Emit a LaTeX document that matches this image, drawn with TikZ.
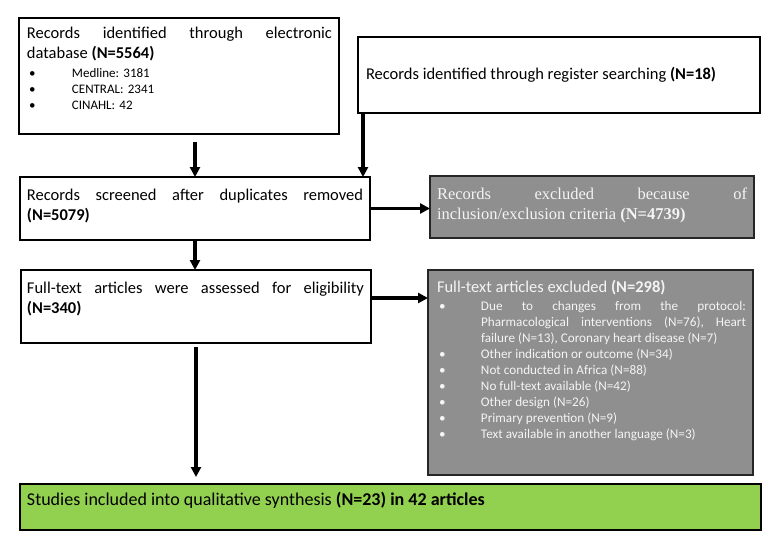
\documentclass[tikz,border=0pt]{standalone}
\usepackage{fontspec}
\setmainfont{Carlito}
\newfontfamily\timesf{Liberation Serif}
\usetikzlibrary{arrows.meta}
\definecolor{boxgray}{RGB}{143,143,143}
\definecolor{boxgreen}{RGB}{146,208,80}
\definecolor{lighttext}{RGB}{244,244,244}
\frenchspacing
\newcommand{\bitem}[2]{\par\hangindent=#1\hangafter=1\noindent\makebox[#1][l]{\hspace{2pt}\textbullet}#2}
\begin{document}
\begin{tikzpicture}[x=1pt,y=-1pt,
  box/.style={draw=black, line width=1.6pt, rectangle, inner sep=0pt, outer sep=0pt, anchor=north west},
  whitebox/.style={box, fill=white},
  graybox/.style={box, fill=boxgray, draw=black!85},
  greenbox/.style={box, fill=boxgreen},
  txt/.style={anchor=north west, inner sep=0pt, outer sep=0pt},
  main/.style={txt, font=\fontsize{16.5}{20}\selectfont},
  small/.style={txt, font=\fontsize{13.2}{16}\selectfont},
  arr/.style={line width=3.2pt, -{Triangle[length=10pt,width=10pt]}},
]
\useasboundingbox (0,0) rectangle (778,558);

% boxes
\node[whitebox, minimum width=320pt, minimum height=116pt] (A) at (19,18) {};
\node[whitebox, minimum width=402pt, minimum height=76pt] (B) at (358,37) {};
\node[whitebox, minimum width=350pt, minimum height=63pt] (C) at (20,177) {};
\node[graybox, minimum width=324pt, minimum height=62pt] (G1) at (430,176) {};
\node[whitebox, minimum width=350pt, minimum height=73pt] (D) at (21,270) {};
\node[graybox, minimum width=325pt, minimum height=205pt] (G2) at (428,270) {};
\node[greenbox, minimum width=741pt, minimum height=46pt] (E) at (20,484) {};

% texts
\node[main, text width=305pt, align=justify] (Atext) at (27,27)
  {Records identified through electronic\linebreak database \textbf{(N=5564)}};
\node[txt, font=\fontsize{13}{16}\selectfont, text width=200pt, align=left] (Alist) at (27,61)
  {\bitem{45pt}{Medline: 3181}\bitem{45pt}{CENTRAL: 2341}\bitem{45pt}{CINAHL: 42}};
\node[main] (Btext) at (366,67)
  {Records identified through register searching \textbf{(N=18)}};
\node[main, text width=336pt, align=justify] (Ctext) at (27,189)
  {Records screened after duplicates removed\linebreak \textbf{(N=5079)}};
\node[txt, text width=310pt, align=justify, text=lighttext, font=\timesf\fontsize{16.5}{20}\selectfont] (G1text) at (437,187.5)
  {Records excluded because of\linebreak inclusion/exclusion criteria \textbf{(N=4739)}};
\node[main, text width=337pt, align=justify] (Dtext) at (27,282)
  {Full-text articles were assessed for eligibility\linebreak \textbf{(N=340)}};
\node[main, text=lighttext] (G2title) at (437,280)
  {Full-text articles excluded \textbf{(N=298)}};
\node[small, text width=309pt, align=justify, text=lighttext] (G2list) at (437,294)
  {\bitem{44pt}{Due to changes from the protocol:\linebreak Pharmacological interventions (N=76), Heart\linebreak failure (N=13), Coronary heart disease (N=7)}%
   \bitem{44pt}{Other indication or outcome (N=34)}%
   \bitem{44pt}{Not conducted in Africa (N=88)}%
   \bitem{44pt}{No full-text available (N=42)}%
   \bitem{44pt}{Other design (N=26)}%
   \bitem{44pt}{Primary prevention (N=9)}%
   \bitem{44pt}{Text available in another language (N=3)}};
\node[txt, font=\fontsize{18}{22}\selectfont] (Etext) at (27,492)
  {Studies included into qualitative synthesis \textbf{(N=23) in 42 articles}};

% connectors
\path (A.south -| C.north) ++(0,8) coordinate (a1);
\draw[arr] (a1) -- (C.north);
\path (B.south west) ++(5,0) coordinate (b1);
\draw[arr] (b1) -- (b1 |- C.north);
\draw[arr, shorten <=1pt] (C.east) -- (C.east -| G1.west);
\draw[arr] (C.south) -- (C.south |- D.north);
\path (D.east) ++(0,-8.5) coordinate (d1);
\draw[arr, shorten <=1pt] (d1) -- (d1 -| G2.west);
\path (D.south) ++(0,4) coordinate (d2);
\draw[arr, shorten >=7pt] (d2) -- (d2 |- E.north);
\end{tikzpicture}
\end{document}
